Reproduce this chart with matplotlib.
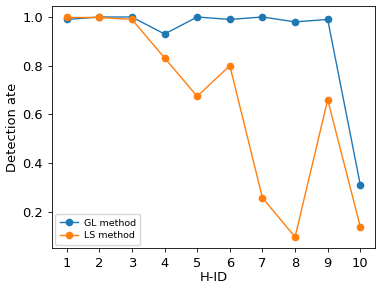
import matplotlib
matplotlib.use("Agg")
import matplotlib.pyplot as plt

h_ids = [1, 2, 3, 4, 5, 6, 7, 8, 9, 10]
gl_rate = [0.99, 1.0, 1.0, 0.93, 1.0, 0.99, 1.0, 0.98, 0.99, 0.31]
ls_rate = [0.998, 0.998, 0.99, 0.832, 0.674, 0.80, 0.257, 0.096, 0.66, 0.138]

fig = plt.figure(figsize=(3.82, 2.91), dpi=100)
ax = fig.add_axes([52/382, 1-248/291, (375-52)/382, (248-6)/291])
ax.plot(h_ids, gl_rate, marker='o', markersize=4.5, linewidth=1.0, label='GL method')
ax.plot(h_ids, ls_rate, marker='o', markersize=4.5, linewidth=1.0, label='LS method')
ax.set_xticks(h_ids)
ax.set_yticks([0.2, 0.4, 0.6, 0.8, 1.0])
ax.tick_params(labelsize=9.4, length=3, width=0.6)
ax.set_xlabel('H-ID', fontsize=9.4, labelpad=1)
ax.set_ylabel('Detection ate', fontsize=9.4, labelpad=2)
for s in ax.spines.values():
    s.set_linewidth(0.6)
ax.legend(loc='lower left', fontsize=6.8, handlelength=1.9, handletextpad=0.7,
          borderpad=0.45, labelspacing=0.4, borderaxespad=0.35)
fig.savefig('out.png', dpi=100)
